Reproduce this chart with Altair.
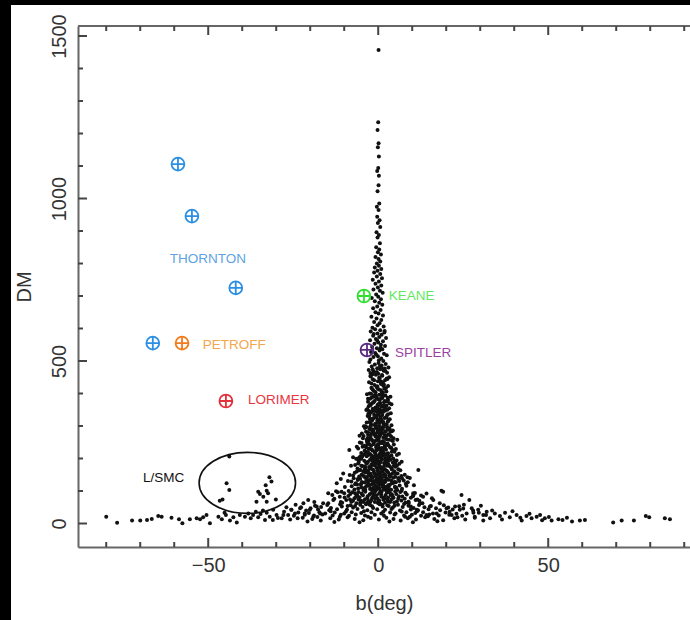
import altair as alt
import pandas as pd

# Pulsar population: Galactic latitude b (deg) and dispersion measure DM
spine = [(0.1, 1457), (0.0, 1235), (-0.2, 1211), (0.1, 1170), (-0.1, 1158), (0.2, 1129), (0.0, 1094),
         (-0.3, 1085), (0.2, 1070), (0.1, 1041), (-0.2, 1022), (0.3, 985), (-0.4, 975), (0.1, 965),
         (-0.3, 944), (0.4, 933), (-0.1, 925), (0.6, 912), (-0.5, 896), (0.2, 888), (-0.2, 880),
         (0.5, 862), (-0.6, 850), (0.3, 843), (-0.1, 835), (0.8, 828), (-0.8, 820), (0.1, 814),
         (0.6, 806), (-0.4, 800), (0.2, 793), (-1.0, 788), (0.9, 783), (-0.2, 778)]

column = [(-1.2, 772), (0.6, 768), (-0.4, 760), (1.1, 755), (-1.6, 750), (0.2, 745), (-0.8, 738),
          (0.9, 732), (-0.1, 726), (-1.4, 720), (0.5, 716), (1.3, 710), (-0.6, 705), (0.0, 698),
          (-1.9, 694), (0.8, 690), (-1.0, 684), (0.3, 679), (1.2, 673), (-0.3, 668), (-1.5, 662),
          (0.7, 657), (-0.8, 650), (0.1, 646), (1.4, 640), (-2.0, 636), (-0.5, 631), (0.9, 626),
          (-1.2, 620), (0.4, 616), (-0.2, 610), (1.6, 606), (-1.7, 602),
          (-0.9, 598), (0.6, 595), (-2.2, 591), (1.8, 588), (-0.2, 585), (1.0, 581), (-1.5, 578),
          (0.3, 574), (2.3, 571), (-0.7, 568), (-2.4, 564), (1.4, 561), (0.0, 557), (-1.1, 553),
          (0.8, 550), (2.0, 546), (-1.8, 543), (-0.4, 539), (1.2, 536), (0.4, 532), (-2.1, 528),
          (-0.9, 525), (1.7, 522), (2.5, 518), (-0.1, 515), (-1.4, 512), (0.9, 508), (-2.3, 505),
          (0.2, 502), (1.5, 500), (-0.6, 520), (0.7, 541), (-1.3, 583), (1.9, 592), (-0.3, 563),
          (-2.6, 497), (0.1, 494), (2.2, 491), (-1.0, 489), (1.0, 486), (-1.9, 483), (3.0, 480),
          (-0.3, 478), (0.6, 475), (-2.8, 472), (1.6, 470), (-1.3, 467), (2.6, 464), (0.0, 461),
          (-0.7, 458), (1.2, 455), (-2.2, 452), (3.2, 450), (0.4, 447), (-1.6, 444), (2.0, 441),
          (-0.1, 438), (-2.7, 435), (1.4, 432), (0.8, 429), (-1.1, 426), (2.9, 423), (-0.5, 421),
          (-2.0, 418), (1.8, 415), (0.2, 412), (-1.4, 409), (2.4, 406), (-0.8, 404), (1.0, 401),
          (-2.5, 400), (0.5, 485), (-0.4, 466), (1.9, 477), (-1.7, 459), (2.7, 445), (0.9, 437),
          (-0.2, 416), (1.5, 424), (-2.3, 463)]

core = [(-3.3, 398), (0.3, 396), (2.1, 394), (-1.4, 392), (3.6, 390), (-0.5, 388), (1.2, 386),
        (-2.4, 384), (0.0, 382), (2.9, 380), (-1.0, 378), (-3.0, 375), (1.7, 373), (0.6, 371),
        (-1.9, 369), (3.9, 367), (-0.2, 365), (2.4, 363), (-2.8, 361), (1.0, 359), (-0.8, 357),
        (3.2, 355), (-1.6, 353), (0.4, 351), (-3.5, 349), (2.0, 347), (-0.4, 345), (1.4, 343),
        (-2.2, 341), (3.7, 339), (0.1, 337), (-1.2, 335), (2.6, 333), (-3.1, 331), (0.8, 329),
        (-0.6, 327), (1.9, 325), (-2.5, 323), (3.4, 321), (-0.1, 319), (-1.8, 317), (1.1, 315),
        (2.8, 313), (-3.4, 311), (0.5, 309), (-0.9, 307), (2.2, 305), (-2.0, 303), (3.9, 302),
        (0.2, 300), (-1.3, 390), (1.6, 362), (-2.7, 346), (0.9, 320), (-0.3, 333),
        (-4.2, 299), (1.5, 297), (-0.7, 295), (3.3, 293), (-2.6, 291), (0.4, 289), (-1.5, 287),
        (4.3, 286), (2.2, 284), (-3.6, 282), (-0.2, 281), (1.1, 279), (-4.8, 277), (2.9, 275),
        (-1.1, 274), (0.7, 272), (-2.2, 270), (3.8, 268), (-0.5, 267), (1.8, 265), (-3.1, 263),
        (-4.5, 262), (0.1, 260), (2.5, 259), (-1.8, 257), (4.0, 256), (-0.9, 254), (1.3, 253),
        (-2.9, 252), (-3.9, 294), (3.0, 289), (0.9, 285), (-1.9, 278), (2.0, 271), (-0.1, 266),
        (-3.4, 258), (4.5, 262), (1.7, 251), (-2.4, 298), (0.3, 276),
        (-5.4, 249), (0.6, 248), (2.7, 246), (-1.3, 245), (4.6, 243), (-3.2, 242), (0.0, 240),
        (-2.1, 239), (1.9, 238), (-4.6, 236), (3.5, 235), (-0.6, 234), (1.0, 232), (-5.9, 231),
        (-2.8, 230), (5.2, 229), (2.3, 227), (-0.3, 226), (-1.7, 225), (0.8, 223), (-3.8, 222),
        (4.0, 221), (-1.0, 219), (1.5, 218), (-5.0, 217), (2.9, 216), (-2.4, 214), (0.3, 213),
        (-4.2, 212), (5.5, 211), (-0.8, 210), (1.2, 208), (-3.4, 207), (3.2, 206), (-1.5, 205),
        (0.5, 204), (-5.6, 203), (2.1, 202), (-2.0, 201), (4.4, 200), (-0.1, 244), (-3.0, 220),
        (1.7, 212), (-0.5, 205), (3.8, 233),
        (-6.5, 199), (1.1, 198), (3.6, 197), (-2.4, 196), (-0.3, 195), (5.4, 194), (-4.1, 193),
        (0.7, 192), (2.2, 191), (-1.5, 190), (-5.7, 189), (4.3, 188), (-0.9, 187), (1.7, 186),
        (-3.3, 185), (6.2, 184), (0.2, 183), (-2.0, 182), (3.0, 181), (-6.8, 180), (-1.1, 179),
        (2.6, 178), (-4.7, 177), (0.5, 176), (5.0, 175), (-2.7, 174), (1.4, 173), (-0.5, 172),
        (-3.8, 171), (3.9, 170), (-6.1, 169), (0.9, 168), (-1.8, 167), (2.0, 166), (-5.2, 165),
        (6.5, 164), (-0.1, 163), (-3.0, 162), (4.7, 161), (1.3, 160), (-4.4, 159), (-1.3, 158),
        (2.9, 157), (-6.9, 156), (0.4, 155), (5.7, 154), (-2.3, 153), (1.8, 152), (-0.7, 151),
        (3.4, 150), (-5.5, 198), (2.4, 185), (-3.6, 163), (0.0, 171), (4.6, 178)]

core_fill = [(-0.8, 397), (1.5, 393), (-2.0, 387), (0.6, 383), (2.5, 376), (-1.5, 372), (0.1, 368),
             (-2.3, 364), (1.8, 358), (-0.4, 354), (2.7, 350), (-1.1, 346), (0.7, 342), (-2.9, 338),
             (1.2, 334), (-0.7, 330), (2.3, 326), (-1.6, 322), (0.4, 318), (3.0, 316), (-2.6, 312),
             (-0.2, 310), (1.6, 306), (-1.0, 302), (-3.5, 297), (2.6, 296), (-0.4, 292), (1.3, 290),
             (-2.0, 288), (3.6, 283), (-1.3, 280), (0.5, 278), (-3.0, 273), (2.4, 270), (-0.8, 268),
             (1.5, 264), (-2.5, 261), (3.2, 258), (0.2, 255), (-1.5, 252), (-4.9, 248), (1.5, 247),
             (-2.6, 244), (3.0, 241), (-0.5, 238), (-3.6, 235), (2.0, 233), (0.4, 230), (-1.9, 228),
             (4.3, 226), (-4.0, 224), (1.3, 221), (-0.9, 217), (2.5, 214), (-2.9, 211), (3.9, 209),
             (-5.2, 207), (0.0, 206), (-1.2, 202), (2.8, 200), (-6.0, 197), (-1.8, 195), (3.1, 193),
             (0.2, 190), (-3.6, 188), (5.0, 186), (-0.6, 184), (1.9, 180), (-5.0, 178), (3.4, 176),
             (-2.2, 175), (0.8, 172), (-4.0, 168), (5.9, 167), (-1.4, 165), (2.5, 162), (-6.3, 160),
             (0.6, 158), (-2.8, 156), (4.1, 153), (-0.2, 152), (-4.9, 150), (-7.4, 148), (2.2, 147),
             (-1.9, 146), (5.0, 144), (-3.5, 142), (0.9, 141), (7.0, 139), (-5.3, 138), (-0.3, 137),
             (3.0, 135), (-2.4, 134), (6.2, 131), (-7.9, 129), (1.9, 128), (-4.0, 126), (4.4, 125),
             (-1.3, 124), (0.6, 122), (-6.2, 120), (3.4, 119), (-3.3, 117), (8.3, 116), (-0.5, 115),
             (2.0, 113), (-5.0, 111), (5.3, 110), (-2.0, 108), (0.4, 107), (-7.0, 105), (3.8, 104),
             (-3.8, 103), (6.9, 101), (-1.0, 101), (-10.8, 98), (-5.8, 97), (2.6, 96), (8.0, 95),
             (-2.0, 94), (-8.2, 91), (4.0, 90), (0.9, 89), (-4.5, 87), (10.3, 87), (-1.4, 86),
             (6.1, 84), (-6.5, 83), (1.8, 81), (-9.9, 80), (4.5, 79), (-3.2, 78), (7.8, 76),
             (-0.9, 76), (-5.8, 74), (2.7, 72), (11.0, 72), (-7.4, 70), (0.3, 70), (5.5, 68),
             (-2.3, 67), (-11.0, 66), (3.5, 66), (-5.3, 64), (8.0, 64), (-0.1, 63), (1.2, 58),
             (-3.6, 59), (4.8, 55), (-9.0, 54), (9.6, 52)]

core_inner = [(0.9, 478), (-1.6, 474), (2.1, 469), (-0.5, 463), (1.1, 457), (-2.3, 454), (0.3, 449),
              (2.5, 446), (-1.2, 441), (0.6, 436), (-2.0, 431), (1.7, 427), (-0.3, 422), (2.3, 417),
              (-1.7, 413), (0.8, 410), (-0.9, 405), (1.4, 403),
              (-2.1, 399), (1.0, 395), (-0.6, 391), (2.8, 387), (-3.0, 384), (0.4, 380), (1.9, 377),
              (-1.3, 374), (3.3, 370), (-2.4, 366), (0.9, 363), (-0.1, 360), (2.1, 356), (-3.2, 352),
              (1.3, 348), (-1.9, 344), (0.0, 340), (2.9, 336), (-2.6, 332), (0.6, 328), (-1.4, 324),
              (3.1, 320), (-0.3, 316), (1.5, 312), (-2.2, 308), (2.5, 304), (-0.7, 301),
              (-3.8, 299), (0.8, 296), (2.8, 293), (-1.7, 290), (-0.1, 287), (4.0, 284), (-3.0, 281),
              (1.6, 278), (-0.9, 275), (3.4, 272), (-4.3, 269), (0.3, 266), (2.1, 263), (-2.1, 260),
              (-0.4, 257), (4.3, 254), (-3.3, 251), (1.0, 248), (-1.4, 245), (2.5, 242), (-4.1, 239),
              (0.0, 236), (3.7, 233), (-2.5, 230), (1.4, 227), (-0.7, 224), (4.8, 221), (-3.6, 218),
              (0.6, 215), (2.2, 212), (-1.9, 209), (-4.7, 206), (3.1, 203), (-0.2, 201),
              (-5.0, 199), (2.0, 197), (-1.0, 195), (4.8, 192), (-3.0, 190), (0.6, 188), (-5.9, 185),
              (2.9, 183), (-1.6, 181), (5.5, 178), (-3.9, 176), (0.1, 174), (1.6, 171), (-2.5, 169),
              (4.0, 166), (-5.5, 164), (-0.3, 162), (2.7, 159), (-3.7, 157), (5.1, 155), (-1.0, 152),
              (0.9, 149), (-4.4, 147), (3.5, 145), (-2.0, 142), (6.0, 140), (-6.0, 137), (0.2, 135),
              (2.0, 133), (-3.0, 130), (4.8, 128), (-1.5, 126), (-5.0, 123), (1.2, 121), (3.2, 118),
              (-2.8, 116), (-0.1, 113), (5.0, 111), (-4.0, 109), (1.6, 106), (-1.8, 104), (3.0, 102)]

base = [(-8.4, 149), (0.5, 148), (3.3, 148), (-2.9, 147), (6.8, 146), (-5.6, 145), (-0.7, 145),
        (1.8, 144), (-4.0, 143), (8.6, 142), (-1.6, 141), (4.5, 141), (0.0, 140), (-7.2, 139),
        (2.6, 138), (-3.3, 137), (5.9, 137), (-0.4, 136), (1.1, 135), (-6.0, 134), (3.8, 133),
        (-2.2, 133), (7.5, 132), (-8.9, 131), (0.8, 130), (-1.1, 129), (2.1, 129), (-4.8, 128),
        (5.2, 127), (-0.2, 126), (-3.0, 125), (4.0, 124), (-6.6, 124), (1.5, 123), (8.1, 122),
        (-1.9, 121), (0.3, 120), (-5.1, 119), (2.9, 118), (-2.6, 118), (6.3, 117), (-0.9, 116),
        (-7.8, 115), (1.2, 114), (4.9, 113), (-3.7, 112), (0.0, 111), (-1.4, 110), (3.1, 109),
        (-5.9, 108), (7.0, 107), (-2.4, 106), (1.7, 105), (-0.6, 104), (5.6, 103), (-4.3, 102),
        (2.4, 101), (-8.7, 100), (0.6, 100), (-3.5, 135), (3.6, 146), (-1.3, 131), (2.5, 111),
        (-6.8, 121), (9.3, 140),
        (-12.4, 99), (-3.8, 98), (1.0, 98), (6.5, 97), (-7.6, 96), (-1.2, 95), (3.4, 95),
        (10.8, 94), (-10.0, 93), (-4.9, 92), (0.3, 92), (5.3, 91), (-2.5, 90), (8.4, 89),
        (-6.2, 88), (2.2, 88), (-0.5, 87), (12.6, 86), (-8.8, 85), (4.2, 85), (-3.1, 84),
        (7.1, 83), (-11.3, 82), (0.9, 82), (-5.5, 81), (2.9, 80), (9.6, 79), (-1.8, 79),
        (-7.0, 78), (5.9, 77), (-0.2, 77), (-12.9, 76), (3.9, 75), (-3.9, 75), (11.5, 74),
        (1.5, 73), (-9.4, 72), (-2.0, 72), (6.8, 71), (-5.0, 70), (0.0, 69), (3.0, 68),
        (-7.9, 67), (8.9, 67), (-1.0, 66), (4.7, 65), (-10.6, 64), (2.0, 64), (-3.4, 63),
        (13.0, 62), (-6.4, 62), (0.6, 61), (7.6, 60), (-2.7, 60), (-11.9, 96), (10.2, 84),
        (-8.3, 74), (12.1, 70), (-4.4, 66), (5.0, 99), (-6.8, 93), (1.9, 77), (9.0, 63),
        (-13.5, 88), (14.2, 92), (-14.7, 62), (15.8, 78), (-0.8, 100), (3.7, 88), (-2.9, 69),
        (-9.8, 112), (8.7, 127), (-11.0, 137), (10.5, 118), (7.8, 150), (-8.0, 178), (6.9, 190),
        (-7.4, 204), (6.1, 215), (-6.3, 236), (5.6, 258), (-5.5, 270)]

floor = [(-24.3, 58), (-18.6, 55), (-15.0, 57), (-11.2, 59), (-8.1, 56), (-5.3, 58), (-2.4, 57),
         (0.4, 59), (2.7, 56), (5.8, 58), (8.9, 55), (12.0, 57), (15.5, 54), (19.3, 56), (23.8, 53),
         (-22.7, 50), (-19.9, 47), (-16.8, 51), (-13.9, 48), (-10.7, 52), (-7.4, 49), (-4.6, 51),
         (-1.5, 48), (1.3, 52), (4.3, 49), (7.2, 51), (10.4, 48), (13.6, 50), (17.0, 47), (20.6, 49),
         (25.0, 46), (-25.6, 42), (-21.2, 40), (-17.7, 43), (-14.4, 41), (-12.1, 44), (-9.2, 42),
         (-6.1, 45), (-3.2, 41), (-0.3, 44), (2.0, 42), (3.9, 45), (6.4, 40), (9.6, 43), (11.7, 41),
         (14.8, 44), (18.2, 41), (21.9, 43), (27.9, 40), (-23.5, 34), (-20.4, 32), (-17.3, 35),
         (-15.6, 31), (-12.8, 34), (-10.0, 31), (-7.8, 35), (-5.0, 32), (-2.0, 35), (0.9, 31),
         (3.5, 34), (5.1, 31), (8.3, 35), (10.9, 32), (13.2, 35), (16.1, 31), (19.8, 34), (23.0, 30),
         (29.6, 33), (-27.9, 26), (-24.8, 24), (-21.6, 27), (-18.9, 25), (-16.4, 28), (-13.4, 25),
         (-11.0, 27), (-8.6, 24), (-6.6, 28), (-3.9, 25), (-1.0, 27), (1.7, 24), (4.8, 28), (7.6, 25),
         (9.9, 27), (12.6, 24), (15.0, 28), (17.8, 25), (20.9, 27), (24.7, 24), (31.7, 26),
         (-9.5, 37), (-4.2, 38), (1.5, 36), (6.9, 37), (-14.0, 38), (11.4, 38), (-1.8, 53),
         (3.1, 54), (-6.8, 54),
         (-29.5, 17), (-25.9, 12), (-22.2, 18), (-19.4, 14), (-16.9, 9), (-14.1, 16), (-11.6, 12),
         (-9.0, 19), (-6.9, 14), (-4.4, 10), (-2.2, 17), (0.2, 12), (2.4, 18), (4.5, 14), (6.6, 9),
         (8.7, 16), (11.1, 12), (13.8, 19), (16.5, 14), (19.1, 10), (22.4, 16), (25.6, 12),
         (28.4, 18), (-31.0, 11), (-20.8, 6), (-12.9, 5), (-5.5, 4), (3.3, 6), (10.2, 4), (17.4, 7),
         (30.9, 9), (-3.0, 21), (7.9, 21), (-17.9, 20), (14.6, 22)]

left_tail = [(-80.0, 21), (-76.8, 2), (-72.4, 9), (-70.0, 9), (-68.0, 11), (-66.6, 14), (-64.7, 23),
             (-63.7, 21), (-60.8, 18), (-58.6, 13), (-57.6, 1), (-55.4, 13), (-53.4, 16), (-52.4, 13),
             (-51.5, 19), (-50.5, 26), (-49.5, 1), (-47.0, 21), (-46.0, 13), (-45.2, 33), (-44.8, 26),
             (-43.6, 9), (-42.6, 19), (-41.6, 3), (-40.7, 26), (-39.2, 21), (-38.2, 31), (-37.5, 16),
             (-36.8, 26), (-36.0, 36), (-35.3, 19), (-34.6, 29), (-33.9, 40), (-33.3, 11), (-32.8, 33),
             (-31.9, 21), (-30.9, 42), (-29.9, 26), (-28.4, 16), (-27.7, 36), (-27.0, 50), (-26.5, 26),
             (-25.5, 42), (-24.5, 31), (-23.7, 16), (-23.0, 47), (-22.0, 62), (-21.6, 31), (-20.6, 72),
             (-20.1, 42), (-19.1, 21), (-18.8, 66), (-18.1, 52), (-17.1, 31), (-16.2, 62), (-14.7, 93),
             (-14.2, 42), (-13.2, 72), (-12.2, 124), (-11.3, 21), (-10.3, 154), (-8.5, 226)]

right_tail = [(9.3, 21), (10.3, 93), (11.3, 42), (11.8, 165), (12.3, 62), (13.2, 82), (14.2, 26),
              (15.2, 52), (16.2, 72), (17.2, 31), (18.1, 62), (18.6, 101), (19.1, 98), (20.1, 47),
              (21.0, 36), (21.6, 26), (22.6, 52), (23.3, 19), (24.0, 42), (24.5, 88), (25.2, 58),
              (26.0, 31), (26.8, 72), (27.5, 47), (28.0, 33), (28.4, 21), (29.4, 42), (30.2, 55),
              (30.9, 26), (31.9, 36), (32.9, 16), (33.5, 40), (34.3, 31), (35.8, 23), (36.4, 12),
              (37.3, 33), (38.7, 19), (39.5, 38), (40.7, 26), (41.8, 18), (42.2, 9), (43.6, 23),
              (44.5, 30), (45.1, 16), (46.6, 21), (47.6, 26), (48.2, 10), (49.0, 16), (50.2, 20),
              (51.0, 9), (53.0, 13), (54.2, 11), (55.5, 18), (57.0, 6), (59.3, 9), (60.8, 11),
              (69.1, 3), (71.6, 9), (75.2, 9), (78.7, 23), (79.7, 19), (84.3, 16), (85.8, 13)]

# Pulsars in the Large and Small Magellanic Clouds
lsmc = [(-43.8, 206), (-44.6, 124), (-43.8, 103), (-45.8, 74), (-46.6, 70), (-35.3, 98),
        (-34.8, 91), (-33.1, 118), (-32.8, 101), (-32.0, 142), (-31.4, 129), (-32.4, 93),
        (-35.8, 67), (-32.8, 67), (-30.1, 74), (-33.8, 82)]

# Fast radio bursts, by discovery paper
frb_survey = ["THORNTON", "THORNTON", "THORNTON", "THORNTON", "PETROFF", "LORIMER", "KEANE", "SPITLER"]
frb_b = [-58.9, -54.8, -41.9, -66.3, -57.7, -44.8, -4.2, -3.3]
frb_dm = [1106, 946, 725, 555, 555, 377, 700, 534]

# Annotations
note_text = ["THORNTON", "PETROFF", "LORIMER", "KEANE", "SPITLER", "L/SMC"]
note_b = [-61.3, -51.6, -38.3, 3.1, 4.9, -69.2]
note_dm = [814, 549, 380, 700, 525, 140]
lsmc_center = (-38.5, 125)

survey_order = ["THORNTON", "PETROFF", "LORIMER", "KEANE", "SPITLER", "L/SMC"]
marker_colors = ["#2b8fe3", "#f27b1c", "#e3313c", "#2fe02f", "#5b2b82", "#111111"]
text_colors = ["#5ea3e3", "#f5a54a", "#e9353f", "#5fe85f", "#9a3fa3", "#111111"]

x_ticks = list(range(-80, 100, 10))
y_ticks = list(range(0, 1600, 100))

pulsars = pd.DataFrame(spine + column + core + core_fill + core_inner + base + floor
                       + left_tail + right_tail + lsmc, columns=["b", "dm"])
frbs = pd.DataFrame({"b": frb_b, "dm": frb_dm, "survey": frb_survey})
notes = pd.DataFrame({"b": note_b, "dm": note_dm, "text": note_text})
ellipse_df = pd.DataFrame({"b": [lsmc_center[0]], "dm": [lsmc_center[1]]})
xtick_df = pd.DataFrame({"b": x_ticks})
ytick_df = pd.DataFrame({"dm": y_ticks})

W, H = 612, 521
xs = alt.Scale(domain=[-88.3, 91.7], nice=False, zero=False)
ys = alt.Scale(domain=[-72.3, 1530.8], nice=False, zero=False)

FONT = "Liberation Sans"
FRAME = "#666666"
TICK = "#444444"
axis_style = dict(domainColor=FRAME, domainWidth=2, ticks=False, format="d",
                  labelColor="#333333", labelFont=FONT, labelFontSize=20,
                  titleColor="#333333", titleFont=FONT, titleFontSize=20, titleFontWeight="normal",
                  grid=False, labelFlush=False, labelOverlap=False)

# The same axis definitions are shared by every layer so that they merge into one
x_axis = alt.Axis(orient="bottom", values=x_ticks, title="b(deg)",
                  labelExpr="datum.value % 50 === 0 ? datum.label : ''",
                  labelPadding=8, titlePadding=18, **axis_style)
y_axis = alt.Axis(orient="left", values=y_ticks, title="DM",
                  labelExpr="datum.value % 500 === 0 ? datum.label : ''",
                  labelAngle=270, labelAlign="center", labelBaseline="bottom",
                  labelPadding=9, titlePadding=15, **axis_style)
X = alt.X("b:Q", scale=xs, axis=x_axis, title="b(deg)")
Y = alt.Y("dm:Q", scale=ys, axis=y_axis, title="DM")

blank = alt.Data(values=[{"k": 0}])
strip_left = alt.Chart(blank).mark_rect(color="black").encode(
    x=alt.value(-78), x2=alt.value(-67), y=alt.value(-26), y2=alt.value(H + 73))
strip_top = alt.Chart(blank).mark_rect(color="black").encode(
    x=alt.value(-78), x2=alt.value(W), y=alt.value(-26), y2=alt.value(-21))
top_frame = alt.Chart(blank).mark_rule(color=FRAME, strokeWidth=2).encode(
    x=alt.value(0), x2=alt.value(W), y=alt.value(0))


# Inward-pointing tick marks on the frame: long at labelled values, short elsewhere
def x_ticks_layer(major, y_from, y_to):
    test = "datum.b % 50 === 0" if major else "datum.b % 50 !== 0"
    return alt.Chart(xtick_df).transform_filter(test).mark_rule(color=TICK, strokeWidth=2).encode(
        x=X, y=alt.value(y_from), y2=alt.value(y_to))


def y_ticks_layer(major, length):
    test = "datum.dm % 500 === 0" if major else "datum.dm % 500 !== 0"
    return alt.Chart(ytick_df).transform_filter(test).mark_rule(color=TICK, strokeWidth=2).encode(
        y=Y, x=alt.value(0), x2=alt.value(length))


tick_layers = [
    x_ticks_layer(True, H, H - 9), x_ticks_layer(False, H, H - 5),
    x_ticks_layer(True, 0, 9), x_ticks_layer(False, 0, 5),
    y_ticks_layer(True, 9), y_ticks_layer(False, 5),
]

points = alt.Chart(pulsars).mark_circle(size=16, color="#111111", opacity=1).encode(x=X, y=Y)

ring = alt.Chart(ellipse_df).mark_point(
    shape="M-1,0A1,0.633,0,1,1,1,0A1,0.633,0,1,1,-1,0Z",
    size=9300, filled=False, color="#111111", strokeWidth=1.6, opacity=1,
).encode(x=X, y=Y)

frb_marks = alt.Chart(frbs).mark_point(
    shape="M-1,0A1,1,0,1,1,1,0A1,1,0,1,1,-1,0ZM-1,0L1,0M0,-1L0,1",
    size=165, filled=False, strokeWidth=1.8, opacity=1,
).encode(
    x=X, y=Y,
    color=alt.Color("survey:N", scale=alt.Scale(domain=survey_order, range=marker_colors), legend=None),
)

labels = alt.Chart(notes).mark_text(align="left", baseline="middle", font=FONT, fontSize=13.5).encode(
    x=X, y=Y,
    text="text:N",
    color=alt.Color("text:N", scale=alt.Scale(domain=survey_order, range=text_colors), legend=None),
)

chart = alt.layer(strip_left, strip_top, top_frame, *tick_layers, points, ring, frb_marks, labels).resolve_scale(
    color="independent"
).properties(
    width=W, height=H, autosize="none",
    padding={"left": 78, "top": 26, "right": 0, "bottom": 73},
    background="white",
).configure_view(stroke=None).configure_axis(zindex=1)

chart.save("out.html", embed_options={"renderer": "svg", "actions": False})
